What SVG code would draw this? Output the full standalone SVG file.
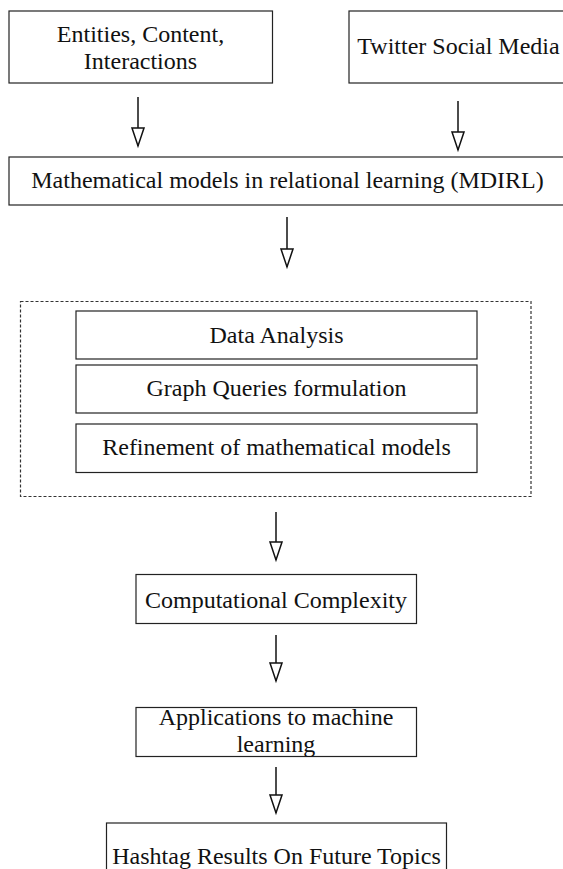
<svg xmlns="http://www.w3.org/2000/svg" width="563" height="869" viewBox="0 0 563 869">
<style>
.box{fill:#fff;stroke:#222;stroke-width:1.2}
.dash{fill:none;stroke:#333;stroke-width:1.2;stroke-dasharray:3,2}
.t{font-family:"Liberation Serif","Times New Roman",serif;font-size:24px;fill:#111;text-anchor:middle}
.c{stroke:#111;stroke-width:1.5;fill:none;marker-end:url(#tri)}
</style>
<defs>
<marker id="tri" markerUnits="userSpaceOnUse" markerWidth="22" markerHeight="16" refX="19" refY="7" orient="auto" viewBox="0 0 22 14">
<path d="M1,1 L19,7 L1,13 Z" fill="#fff" stroke="#111" stroke-width="1.5"/>
</marker>
</defs>
<rect width="563" height="869" fill="#fff"/>
<g id="n-entities">
<rect class="box" x="9" y="11" width="263.5" height="72"/>
<text class="t" x="140.5" y="42">Entities, Content,</text>
<text class="t" x="140.5" y="68.5">Interactions</text>
</g>
<g id="n-twitter">
<rect class="box" x="349" y="11" width="230" height="72"/>
<text class="t" x="458.5" y="54">Twitter Social Media</text>
</g>
<g id="n-mdirl">
<rect class="box" x="9" y="157" width="570" height="48"/>
<text class="t" x="287.5" y="188">Mathematical models in relational learning (MDIRL)</text>
</g>
<g id="n-group">
<rect class="dash" x="20.5" y="301.5" width="510.5" height="195"/>
</g>
<g id="n-data">
<rect class="box" x="76" y="311" width="401" height="48"/>
<text class="t" x="276.5" y="343">Data Analysis</text>
</g>
<g id="n-graph">
<rect class="box" x="76" y="365" width="401" height="48"/>
<text class="t" x="276.5" y="396">Graph Queries formulation</text>
</g>
<g id="n-refine">
<rect class="box" x="76" y="424" width="401" height="48.5"/>
<text class="t" x="276.5" y="455">Refinement of mathematical models</text>
</g>
<g id="n-complexity">
<rect class="box" x="136" y="574.5" width="280.5" height="49"/>
<text class="t" x="276" y="607.5">Computational Complexity</text>
</g>
<g id="n-apps">
<rect class="box" x="136" y="707.5" width="280.5" height="49"/>
<text class="t" x="276" y="725">Applications to machine</text>
<text class="t" x="276" y="751.5">learning</text>
</g>
<g id="n-hashtag">
<rect class="box" x="106.5" y="823" width="340" height="60"/>
<text class="t" x="276.5" y="864">Hashtag Results On Future Topics</text>
</g>
<g id="connectors">
<line class="c" x1="138" y1="97" x2="138" y2="146"/>
<line class="c" x1="458" y1="101" x2="458" y2="150"/>
<line class="c" x1="287" y1="217" x2="287" y2="267"/>
<line class="c" x1="276" y1="512" x2="276" y2="560"/>
<line class="c" x1="276" y1="635" x2="276" y2="681"/>
<line class="c" x1="276" y1="767" x2="276" y2="813"/>
</g>
</svg>
